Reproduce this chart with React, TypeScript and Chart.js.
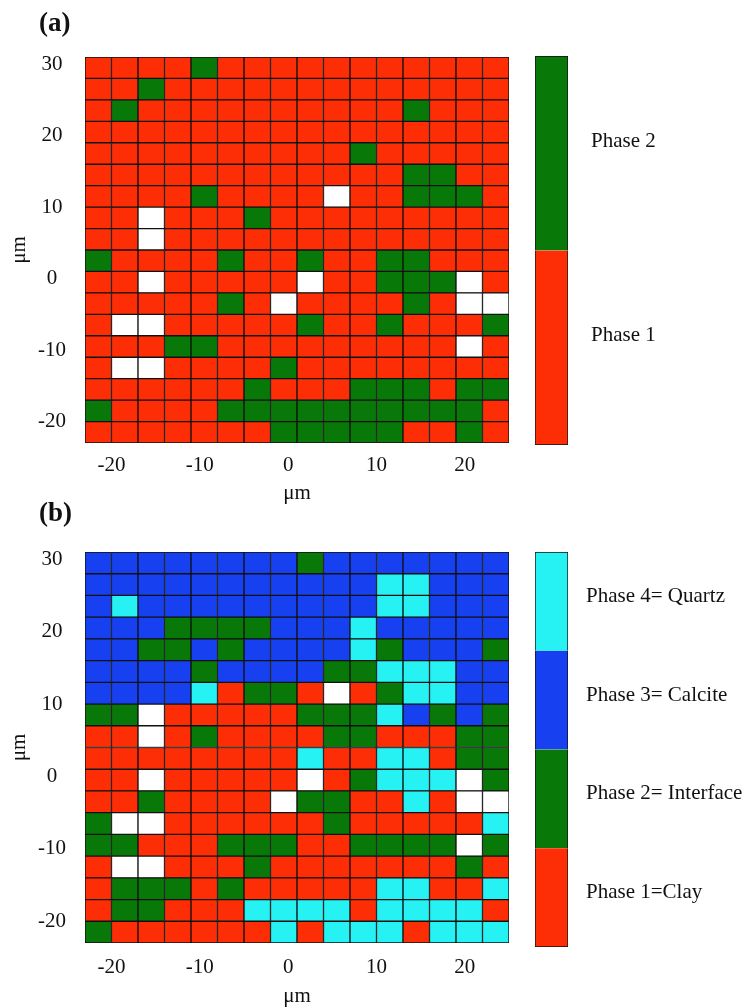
import React, { useEffect, useRef } from "react";
import { Chart, registerables } from "chart.js";

Chart.register(...registerables);

// ---------- data ----------
const xEdges = [-23, -20, -17, -14, -11, -8, -5, -2, 1, 4, 7, 10, 13, 16, 19, 22, 25];
const yEdges = [31, 28, 25, 22, 19, 16, 13, 10, 7, 4, 1, -2, -5, -8, -11, -14, -17, -20, -23];
const xTickValues = [-20, -10, 0, 10, 20];
const yTickValues = [-20, -10, 0, 10, 20, 30];
const axisTitle = "μm";

// phase index: 0 = unassigned (white), 1 = clay, 2 = interface, 3 = calcite, 4 = quartz
const phaseColors = ["#ffffff", "#fd2e06", "#087808", "#1640f0", "#26f2f4"];

// rows listed from top (y = 31) to bottom (y = -23), columns from x = -23 to 25
const phaseMapA = [
  [1, 1, 1, 1, 2, 1, 1, 1, 1, 1, 1, 1, 1, 1, 1, 1],
  [1, 1, 2, 1, 1, 1, 1, 1, 1, 1, 1, 1, 1, 1, 1, 1],
  [1, 2, 1, 1, 1, 1, 1, 1, 1, 1, 1, 1, 2, 1, 1, 1],
  [1, 1, 1, 1, 1, 1, 1, 1, 1, 1, 1, 1, 1, 1, 1, 1],
  [1, 1, 1, 1, 1, 1, 1, 1, 1, 1, 2, 1, 1, 1, 1, 1],
  [1, 1, 1, 1, 1, 1, 1, 1, 1, 1, 1, 1, 2, 2, 1, 1],
  [1, 1, 1, 1, 2, 1, 1, 1, 1, 0, 1, 1, 2, 2, 2, 1],
  [1, 1, 0, 1, 1, 1, 2, 1, 1, 1, 1, 1, 1, 1, 1, 1],
  [1, 1, 0, 1, 1, 1, 1, 1, 1, 1, 1, 1, 1, 1, 1, 1],
  [2, 1, 1, 1, 1, 2, 1, 1, 2, 1, 1, 2, 2, 1, 1, 1],
  [1, 1, 0, 1, 1, 1, 1, 1, 0, 1, 1, 2, 2, 2, 0, 1],
  [1, 1, 1, 1, 1, 2, 1, 0, 1, 1, 1, 1, 2, 1, 0, 0],
  [1, 0, 0, 1, 1, 1, 1, 1, 2, 1, 1, 2, 1, 1, 1, 2],
  [1, 1, 1, 2, 2, 1, 1, 1, 1, 1, 1, 1, 1, 1, 0, 1],
  [1, 0, 0, 1, 1, 1, 1, 2, 1, 1, 1, 1, 1, 1, 1, 1],
  [1, 1, 1, 1, 1, 1, 2, 1, 1, 1, 2, 2, 2, 1, 2, 2],
  [2, 1, 1, 1, 1, 2, 2, 2, 2, 2, 2, 2, 2, 2, 2, 1],
  [1, 1, 1, 1, 1, 1, 1, 2, 2, 2, 2, 2, 1, 1, 2, 1],
];

const phaseMapB = [
  [3, 3, 3, 3, 3, 3, 3, 3, 2, 3, 3, 3, 3, 3, 3, 3],
  [3, 3, 3, 3, 3, 3, 3, 3, 3, 3, 3, 4, 4, 3, 3, 3],
  [3, 4, 3, 3, 3, 3, 3, 3, 3, 3, 3, 4, 4, 3, 3, 3],
  [3, 3, 3, 2, 2, 2, 2, 3, 3, 3, 4, 3, 3, 3, 3, 3],
  [3, 3, 2, 2, 3, 2, 3, 3, 3, 3, 4, 2, 3, 3, 3, 2],
  [3, 3, 3, 3, 2, 3, 3, 3, 3, 2, 2, 4, 4, 4, 3, 3],
  [3, 3, 3, 3, 4, 1, 2, 2, 1, 0, 1, 2, 4, 4, 3, 3],
  [2, 2, 0, 1, 1, 1, 1, 1, 2, 2, 2, 4, 3, 2, 3, 2],
  [1, 1, 0, 1, 2, 1, 1, 1, 1, 2, 2, 1, 1, 1, 2, 2],
  [1, 1, 1, 1, 1, 1, 1, 1, 4, 1, 1, 4, 4, 1, 2, 2],
  [1, 1, 0, 1, 1, 1, 1, 1, 0, 1, 2, 4, 4, 4, 0, 2],
  [1, 1, 2, 1, 1, 1, 1, 0, 2, 2, 1, 1, 4, 1, 0, 0],
  [2, 0, 0, 1, 1, 1, 1, 1, 1, 2, 1, 1, 1, 1, 1, 4],
  [2, 2, 1, 1, 1, 2, 2, 2, 1, 1, 2, 2, 2, 2, 0, 2],
  [1, 0, 0, 1, 1, 1, 2, 1, 1, 1, 1, 1, 1, 1, 2, 1],
  [1, 2, 2, 2, 1, 2, 1, 1, 1, 1, 1, 4, 4, 1, 1, 4],
  [1, 2, 2, 1, 1, 1, 4, 4, 4, 4, 1, 4, 4, 4, 4, 1],
  [2, 1, 1, 1, 1, 1, 1, 4, 1, 4, 4, 4, 1, 4, 4, 4],
];

// colour-bar labels, bottom to top
const phaseLabelsA = ["Phase 1", "Phase 2"];
const phaseLabelsB = ["Phase 1=Clay", "Phase 2= Interface", "Phase 3= Calcite", "Phase 4= Quartz"];

// ---------- styles ----------
const FAMILY = "'Liberation Serif', 'Times New Roman', serif";
const TEXT = "#111111";
const FS = 21;
const LINE = "#101010";

function panelLabelPlugin(text: string) {
  return {
    id: "panelLabel",
    afterDraw(chart: any) {
      const ctx = chart.ctx;
      ctx.save();
      ctx.font = `bold 27px ${FAMILY}`;
      ctx.fillStyle = TEXT;
      ctx.textAlign = "left";
      ctx.textBaseline = "middle";
      ctx.fillText(text, 39, 24);
      ctx.restore();
    },
  };
}

function heatmapConfig(map: number[][], panel: string, lay: any) {
  const data: any[] = [];
  const colors: string[] = [];
  map.forEach((row, r) =>
    row.forEach((phase, c) => {
      data.push({ x: (xEdges[c] + xEdges[c + 1]) / 2, y: [yEdges[r + 1], yEdges[r]] });
      colors.push(phaseColors[phase]);
    })
  );
  const font = { family: FAMILY, size: FS };
  return {
    type: "bar",
    data: {
      datasets: [
        {
          data,
          backgroundColor: colors,
          borderColor: LINE,
          borderWidth: 1,
          borderSkipped: false,
          barPercentage: 1,
          categoryPercentage: 1,
        },
      ],
    },
    options: {
      responsive: false,
      animation: false,
      events: [],
      layout: { padding: { left: 0, top: lay.top, right: lay.right, bottom: 0 } },
      plugins: { legend: { display: false }, tooltip: { enabled: false }, title: { display: false } },
      scales: {
        x: {
          type: "linear",
          min: xEdges[0],
          max: xEdges[xEdges.length - 1],
          offset: false,
          grid: { display: false, drawTicks: false },
          border: { display: false },
          afterBuildTicks: (s: any) => {
            s.ticks = xTickValues.map((v) => ({ value: v }));
          },
          afterFit: (s: any) => {
            s.height = lay.xAxisHeight;
          },
          ticks: { font, color: TEXT, padding: lay.xTickPad, maxRotation: 0, autoSkip: false },
          title: {
            display: true,
            text: axisTitle,
            font,
            color: TEXT,
            padding: { top: 0, bottom: lay.xTitlePad },
          },
        },
        y: {
          type: "linear",
          min: yEdges[yEdges.length - 1],
          max: yEdges[0],
          grid: { display: false, drawTicks: false },
          border: { display: false },
          afterBuildTicks: (s: any) => {
            s.ticks = yTickValues.map((v) => ({ value: v }));
          },
          afterFit: (s: any) => {
            s.width = 85;
          },
          ticks: { font, color: TEXT, padding: 19, crossAlign: "center", autoSkip: false },
          title: { display: true, text: axisTitle, font, color: TEXT, padding: { top: 7, bottom: 0 } },
        },
      },
    },
    plugins: [panelLabelPlugin(panel)],
  };
}

function colorbarConfig(labels: string[], lay: any) {
  const n = labels.length;
  return {
    type: "bar",
    data: {
      labels: [""],
      datasets: labels.map((lab, i) => ({
        label: lab,
        data: [1],
        backgroundColor: phaseColors[i + 1],
        borderColor: LINE,
        borderWidth: { left: 1, right: 1, top: i === n - 1 ? 1 : 0, bottom: i === 0 ? 1 : 0 },
        borderSkipped: false,
        barPercentage: 1,
        categoryPercentage: 1,
      })),
    },
    options: {
      responsive: false,
      animation: false,
      events: [],
      layout: { padding: { left: 5, top: lay.top, right: 0, bottom: lay.bottom } },
      plugins: { legend: { display: false }, tooltip: { enabled: false } },
      scales: {
        x: { display: false, stacked: true },
        y: {
          position: "right",
          stacked: true,
          min: 0,
          max: n,
          grid: { display: false, drawTicks: false },
          border: { display: false },
          afterBuildTicks: (s: any) => {
            s.ticks = labels.map((_, i) => ({ value: i + 0.5 }));
          },
          afterFit: (s: any) => {
            s.width = 185;
          },
          ticks: {
            autoSkip: false,
            padding: lay.labelPad,
            labelOffset: lay.labelOffset,
            font: { family: FAMILY, size: FS },
            color: TEXT,
            callback: (_v: any, i: number) => labels[i],
          },
        },
      },
    },
  };
}

function ChartCanvas({ left, top, width, height, config }: any) {
  const ref = useRef<HTMLCanvasElement>(null);
  useEffect(() => {
    const chart = new Chart(ref.current as HTMLCanvasElement, config());
    return () => chart.destroy();
  }, []);
  return (
    <canvas
      ref={ref}
      width={width}
      height={height}
      style={{ position: "absolute", left, top, width, height }}
    />
  );
}

export default function App() {
  return (
    <div
      style={{
        position: "absolute",
        left: 0,
        top: 0,
        width: 753,
        height: 1008,
        overflow: "hidden",
        background: "#fff",
      }}
    >
      <ChartCanvas
        left={0}
        top={0}
        width={530}
        height={510}
        config={() =>
          heatmapConfig(phaseMapA, "(a)", { top: 57, right: 21, xAxisHeight: 67, xTickPad: 10, xTitlePad: 4 })
        }
      />
      <ChartCanvas
        left={530}
        top={0}
        width={223}
        height={505}
        config={() => colorbarConfig(phaseLabelsA, { top: 56, bottom: 60, labelPad: 23, labelOffset: -12 })}
      />
      <ChartCanvas
        left={0}
        top={490}
        width={530}
        height={520}
        config={() =>
          heatmapConfig(phaseMapB, "(b)", { top: 62, right: 21, xAxisHeight: 67, xTickPad: 12, xTitlePad: 1 })
        }
      />
      <ChartCanvas
        left={530}
        top={490}
        width={223}
        height={515}
        config={() => colorbarConfig(phaseLabelsB, { top: 62, bottom: 58, labelPad: 18, labelOffset: -5 })}
      />
    </div>
  );
}
